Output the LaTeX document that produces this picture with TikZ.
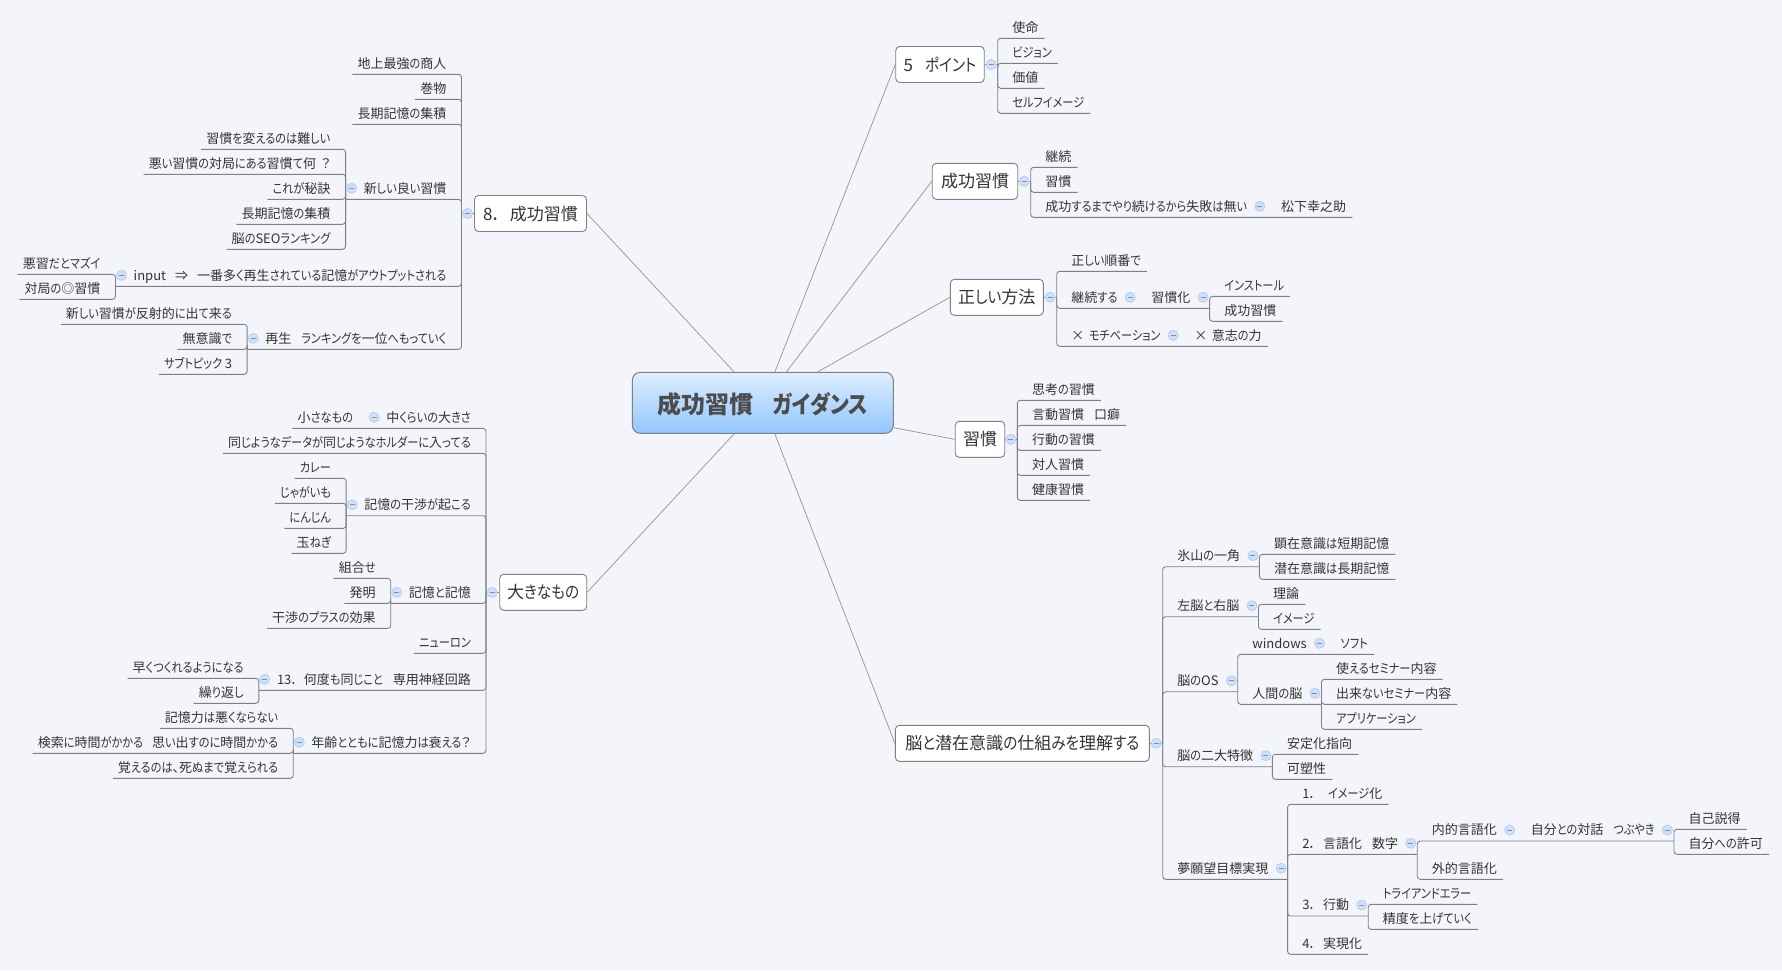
\documentclass[tikz,border=0pt]{standalone}
\usepackage{fontspec}
\setmainfont{Noto Sans CJK JP}[RawFeature={+palt}]
\newfontfamily\kanafont{Noto Sans CJK JP}[RawFeature={+palt},FakeStretch=0.86]
\XeTeXinterchartokenstate=1
\newXeTeXintercharclass\kanaclass
\count255="3041
\loop\XeTeXcharclass\count255=\kanaclass
\ifnum\count255<"30FF \advance\count255 by 1 \repeat
\XeTeXinterchartoks 0 \kanaclass={\kanafont}
\XeTeXinterchartoks 4095 \kanaclass={\kanafont}
\XeTeXinterchartoks \kanaclass 0={\rmfamily}
\XeTeXinterchartoks 4095 0={\rmfamily}
\definecolor{canvas}{HTML}{F3F5FB}
\definecolor{rim}{HTML}{808080}
\definecolor{inktext}{HTML}{333333}
\definecolor{foldfill}{HTML}{CFE0FA}
\definecolor{folddraw}{HTML}{B4CDF2}
\definecolor{centretop}{HTML}{DDEEFF}
\definecolor{centrebot}{HTML}{92C6FF}
\tikzset{
	link/.style={draw=rim!85, line width=0.7pt},
	branch/.style={draw=rim, line width=0.9pt, rounded corners=3pt},
	centre/.style={draw=rim, line width=1pt, rounded corners=8pt, top color=centretop, bottom color=centrebot, minimum width=261pt, minimum height=61pt, inner sep=0pt, text height=21pt, text depth=0pt, text=black!70, font=\fontsize{24}{28}\selectfont\bfseries},
	topic/.style={draw=rim, line width=0.9pt, fill=white, rounded corners=4pt, minimum height=36pt, inner sep=0pt, text height=13pt, text depth=0pt, text=inktext, font=\fontsize{17}{20}\selectfont},
	row/.style={inner sep=0pt, minimum height=22pt, text height=10pt, text depth=0pt, text=inktext, font=\fontsize{13}{15}\selectfont},
	lleaf/.style={row, anchor=south east, execute at begin node=\hspace{5pt}, execute at end node=\hspace{15pt}},
	lpar/.style={row, anchor=south east, execute at begin node=\hspace{18pt}, execute at end node=\hspace{15pt}},
	rleaf/.style={row, anchor=south west, execute at begin node=\hspace{14.5pt}, execute at end node=\hspace{6pt}},
	rpar/.style={row, anchor=south west, execute at begin node=\hspace{14.5pt}, execute at end node=\hspace{19pt}},
	fold/.style={circle, draw=folddraw, fill=foldfill, line width=0.8pt, minimum size=10pt, inner sep=0pt, path picture={\draw[folddraw!70!black, line width=0.7pt] ([xshift=-2.5pt]path picture bounding box.center) -- ([xshift=2.5pt]path picture bounding box.center);}},
}
\begin{document}
\begin{tikzpicture}[x=1pt, y=-1pt]
	\path[use as bounding box, fill=canvas] (0,0) rectangle (1782,970);

	\node[centre] (c)  at (762.8,402.8) {成功習慣\hspace{19pt}ガイダンス};
	\node[topic, minimum width=88.5pt]  (tp) at (940,64.5)   {5\hspace{12pt}ポイント};
	\node[topic, minimum width=85.5pt]  (ts) at (975,181.3)  {成功習慣};
	\node[topic, minimum width=93pt]    (tm) at (996.8,297.3){正しい方法};
	\node[topic, minimum width=49.5pt]  (th) at (980,439.3)  {習慣};
	\node[topic, minimum width=254pt]   (tn) at (1022.4,743.3){脳と潜在意識の仕組みを理解する};
	\node[topic, minimum width=112pt]   (tg) at (530.5,213.5){8．\hspace{9pt}成功習慣};
	\node[topic, minimum width=87pt]    (tb) at (543.2,592.3){大きなもの};

	\draw[link] (c) -- (tp.west);
	\draw[link] (c) -- (ts.west);
	\draw[link] (c) -- (tm.west);
	\draw[link] (c) -- (th.west);
	\draw[link] (c) -- (tn.west);
	\draw[link] (c) -- (tg.east);
	\draw[link] (c) -- (tb.east);

	\coordinate (sp) at (997.7,64.5);
	\node[rleaf] (p1) at (997.7,38.3) {使命};
	\node[rleaf] (p2) at (997.7,63.3) {ビジョン};
	\node[rleaf] (p3) at (997.7,88.3) {価値};
	\node[rleaf] (p4) at (997.7,113.3) {セルフイメージ};
	\draw[branch] (tp.east) -- (sp);
	\draw[branch] (sp) |- (p1.south east);
	\draw[branch] (sp) |- (p2.south east);
	\draw[branch] (sp) |- (p3.south east);
	\draw[branch] (sp) |- (p4.south east);

	\coordinate (ss) at (1030.7,181.3);
	\node[rleaf] (s1) at (1030.7,167.3) {継続};
	\node[rleaf] (s2) at (1030.7,192.3) {習慣};
	\node[rpar]  (s3) at (1030.7,217.3) {成功するまでやり続けるから失敗は無い};
	\node[rleaf] (s4) at (s3.south east) {松下幸之助};
	\draw[branch] (ts.east) -- (ss);
	\draw[branch] (ss) |- (s1.south east);
	\draw[branch] (ss) |- (s2.south east);
	\draw[branch] (ss) |- (s4.south east);

	\coordinate (sm) at (1056.7,297.3);
	\node[rleaf] (m1) at (1056.7,271.3) {正しい順番で};
	\node[rpar]  (m2) at (1056.7,308.3) {継続する};
	\node[rpar]  (m3) at (m2.south east) {習慣化};
	\node[rleaf] (m4) at (m3.south east |- 0,296.3) {インストール};
	\node[rleaf] (m5) at (m3.south east |- 0,321.3) {成功習慣};
	\node[rpar]  (m6) at (1056.7,346.3) {×\hspace{4.5pt}モチベーション};
	\node[rleaf] (m7) at (m6.south east) {×\hspace{4.5pt}意志の力};
	\draw[branch] (tm.east) -- (sm);
	\draw[branch] (sm) |- (m1.south east);
	\draw[branch] (sm) |- (m3.south east);
	\draw[branch] (sm) |- (m7.south east);
	\draw[branch] (m3.south east) |- (m4.south east);
	\draw[branch] (m3.south east) |- (m5.south east);

	\coordinate (sh) at (1017.3,439.3);
	\node[rleaf] (h1) at (1017.3,400.3) {思考の習慣};
	\node[rleaf] (h2) at (1017.3,425.3) {言動習慣\hspace{10pt}口癖};
	\node[rleaf] (h3) at (1017.3,450.3) {行動の習慣};
	\node[rleaf] (h4) at (1017.3,475.3) {対人習慣};
	\node[rleaf] (h5) at (1017.3,500.3) {健康習慣};
	\draw[branch] (th.east) -- (sh);
	\draw[branch] (sh) |- (h1.south east);
	\draw[branch] (sh) |- (h2.south east);
	\draw[branch] (sh) |- (h3.south east);
	\draw[branch] (sh) |- (h4.south east);
	\draw[branch] (sh) |- (h5.south east);

	\coordinate (sn) at (1162.7,743.3);
	\node[rpar]  (n1)  at (1162.7,566.7) {氷山の一角};
	\node[rleaf] (n11) at (n1.south east |- 0,554.3) {顕在意識は短期記憶};
	\node[rleaf] (n12) at (n1.south east |- 0,579.3) {潜在意識は長期記憶};
	\node[rpar]  (n2)  at (1162.7,616.7) {左脳と右脳};
	\node[rleaf] (n21) at (n2.south east |- 0,604.3) {理論};
	\node[rleaf] (n22) at (n2.south east |- 0,629.3) {イメージ};
	\node[rpar]  (n3)  at (1162.7,691.7) {脳のOS};
	\node[rpar]  (n31) at (n3.south east |- 0,654.3) {windows};
	\node[rleaf] (n32) at (n31.south east) {ソフト};
	\node[rpar]  (n33) at (n3.south east |- 0,704.3) {人間の脳};
	\node[rleaf] (n34) at (n33.south east |- 0,679.3) {使えるセミナー内容};
	\node[rleaf] (n35) at (n33.south east |- 0,704.3) {出来ないセミナー内容};
	\node[rleaf] (n36) at (n33.south east |- 0,729.3) {アプリケーション};
	\node[rpar]  (n4)  at (1162.7,766.7) {脳の二大特徴};
	\node[rleaf] (n41) at (n4.south east |- 0,754.3) {安定化指向};
	\node[rleaf] (n42) at (n4.south east |- 0,779.3) {可塑性};
	\node[rpar]  (n5)  at (1162.7,879.3) {夢願望目標実現};
	\node[rleaf] (n51) at (n5.south east |- 0,804.3) {1．\hspace{12pt}イメージ化};
	\node[rpar]  (n52) at (n5.south east |- 0,854.3) {2．\hspace{7pt}言語化\hspace{10pt}数字};
	\node[rpar]  (n53) at (n52.south east |- 0,841) {内的言語化};
	\node[rpar]  (n54) at (n53.south east) {自分との対話\hspace{10pt}つぶやき};
	\node[rleaf] (n55) at (n54.south east |- 0,829.3) {自己説得};
	\node[rleaf] (n56) at (n54.south east |- 0,854.3) {自分への許可};
	\node[rleaf] (n57) at (n52.south east |- 0,879.3) {外的言語化};
	\node[rpar]  (n58) at (n5.south east |- 0,916) {3．\hspace{7pt}行動};
	\node[rleaf] (n59) at (n58.south east |- 0,904.3) {トライアンドエラー};
	\node[rleaf] (n60) at (n58.south east |- 0,929.3) {精度を上げていく};
	\node[rleaf] (n61) at (n5.south east |- 0,954.3) {4．\hspace{7pt}実現化};
	\draw[branch] (tn.east) -- (sn);
	\draw[branch] (sn) |- (n1.south east);
	\draw[branch] (sn) |- (n2.south east);
	\draw[branch] (sn) |- (n3.south east);
	\draw[branch] (sn) |- (n4.south east);
	\draw[branch] (sn) |- (n5.south east);
	\draw[branch] (n1.south east) |- (n11.south east);
	\draw[branch] (n1.south east) |- (n12.south east);
	\draw[branch] (n2.south east) |- (n21.south east);
	\draw[branch] (n2.south east) |- (n22.south east);
	\draw[branch] (n3.south east) |- (n32.south east);
	\draw[branch] (n3.south east) |- (n33.south east);
	\draw[branch] (n33.south east) |- (n34.south east);
	\draw[branch] (n33.south east) |- (n35.south east);
	\draw[branch] (n33.south east) |- (n36.south east);
	\draw[branch] (n4.south east) |- (n41.south east);
	\draw[branch] (n4.south east) |- (n42.south east);
	\draw[branch] (n5.south east) |- (n51.south east);
	\draw[branch] (n5.south east) |- (n52.south east);
	\draw[branch] (n5.south east) |- (n58.south east);
	\draw[branch] (n5.south east) |- (n61.south east);
	\draw[branch] (n52.south east) |- (n54.south east);
	\draw[branch] (n52.south east) |- (n57.south east);
	\draw[branch] (n54.south east) |- (n55.south east);
	\draw[branch] (n54.south east) |- (n56.south east);
	\draw[branch] (n58.south east) |- (n59.south east);
	\draw[branch] (n58.south east) |- (n60.south east);

	\coordinate (sg) at (461.5,213.5);
	\node[lleaf] (g1)  at (461.5,74.3)  {地上最強の商人};
	\node[lleaf] (g2)  at (461.5,99.3)  {巻物};
	\node[lleaf] (g3)  at (461.5,124.3) {長期記憶の集積};
	\node[lpar]  (g4)  at (461.5,199.3) {新しい良い習慣};
	\node[lleaf] (g41) at (g4.south west |- 0,149.3) {習慣を変えるのは難しい};
	\node[lleaf] (g42) at (g4.south west |- 0,174.3) {悪い習慣の対局にある習慣て何\hspace{5pt}？};
	\node[lleaf] (g43) at (g4.south west |- 0,199.3) {これが秘訣};
	\node[lleaf] (g44) at (g4.south west |- 0,224.3) {長期記憶の集積};
	\node[lleaf] (g45) at (g4.south west |- 0,249.3) {脳のSEOランキング};
	\node[lpar]  (g5)  at (461.5,286.3) {input\hspace{9pt}⇒\hspace{9pt}一番多く再生されている記憶がアウトプットされる};
	\node[lleaf] (g51) at (g5.south west |- 0,274.3) {悪習だとマズイ};
	\node[lleaf] (g52) at (g5.south west |- 0,299.3) {対局の◎習慣};
	\node[lpar]  (g6)  at (461.5,349.3) {再生\hspace{10pt}ランキングを一位へもっていく};
	\node[lleaf] (g61) at (g6.south west |- 0,324.3) {新しい習慣が反射的に出て来る};
	\node[lleaf] (g62) at (g6.south west |- 0,349.3) {無意識で};
	\node[lleaf] (g63) at (g6.south west |- 0,374.3) {サブトピック 3};
	\draw[branch] (tg.west) -- (sg);
	\draw[branch] (sg) |- (g1.south west);
	\draw[branch] (sg) |- (g2.south west);
	\draw[branch] (sg) |- (g3.south west);
	\draw[branch] (sg) |- (g4.south west);
	\draw[branch] (sg) |- (g5.south west);
	\draw[branch] (sg) |- (g6.south west);
	\draw[branch] (g4.south west) |- (g41.south west);
	\draw[branch] (g4.south west) |- (g42.south west);
	\draw[branch] (g4.south west) |- (g43.south west);
	\draw[branch] (g4.south west) |- (g44.south west);
	\draw[branch] (g4.south west) |- (g45.south west);
	\draw[branch] (g5.south west) |- (g51.south west);
	\draw[branch] (g5.south west) |- (g52.south west);
	\draw[branch] (g6.south west) |- (g61.south west);
	\draw[branch] (g6.south west) |- (g62.south west);
	\draw[branch] (g6.south west) |- (g63.south west);

	\coordinate (sb) at (486,592.3);
	\node[lpar]  (b1)  at (486,428.3) {中くらいの大きさ};
	\node[lleaf] (b11) at (b1.south west) {小さなもの};
	\node[lleaf] (b2)  at (486,453.3) {同じようなデータが同じようなホルダーに入ってる};
	\node[lpar]  (b3)  at (486,515.7) {記憶の干渉が起こる};
	\node[lleaf] (b31) at (b3.south west |- 0,478.3) {カレー};
	\node[lleaf] (b32) at (b3.south west |- 0,503.3) {じゃがいも};
	\node[lleaf] (b33) at (b3.south west |- 0,528.3) {にんじん};
	\node[lleaf] (b34) at (b3.south west |- 0,553.3) {玉ねぎ};
	\node[lpar]  (b4)  at (486,603.3) {記憶と記憶};
	\node[lleaf] (b41) at (b4.south west |- 0,578.3) {組合せ};
	\node[lleaf] (b42) at (b4.south west |- 0,603.3) {発明};
	\node[lleaf] (b43) at (b4.south west |- 0,628.3) {干渉のプラスの効果};
	\node[lleaf] (b5)  at (486,653.3) {ニューロン};
	\node[lpar]  (b6)  at (486,690.3) {13．\hspace{6pt}何度も同じこと\hspace{10pt}専用神経回路};
	\node[lleaf] (b61) at (b6.south west |- 0,678.3) {早くつくれるようになる};
	\node[lleaf] (b62) at (b6.south west |- 0,703.3) {繰り返し};
	\node[lpar]  (b7)  at (486,753.3) {年齢とともに記憶力は衰える？};
	\node[lleaf] (b71) at (b7.south west |- 0,728.3) {記憶力は悪くならない};
	\node[lleaf] (b72) at (b7.south west |- 0,753.3) {検索に時間がかかる\hspace{9pt}思い出すのに時間かかる};
	\node[lleaf] (b73) at (b7.south west |- 0,778.3) {覚えるのは、死ぬまで覚えられる};
	\draw[branch] (tb.west) -- (sb);
	\draw[branch] (sb) |- (b11.south west);
	\draw[branch] (sb) |- (b2.south west);
	\draw[branch] (sb) |- (b3.south west);
	\draw[branch] (sb) |- (b4.south west);
	\draw[branch] (sb) |- (b5.south west);
	\draw[branch] (sb) |- (b6.south west);
	\draw[branch] (sb) |- (b7.south west);
	\draw[branch] (b3.south west) |- (b31.south west);
	\draw[branch] (b3.south west) |- (b32.south west);
	\draw[branch] (b3.south west) |- (b33.south west);
	\draw[branch] (b3.south west) |- (b34.south west);
	\draw[branch] (b4.south west) |- (b41.south west);
	\draw[branch] (b4.south west) |- (b42.south west);
	\draw[branch] (b4.south west) |- (b43.south west);
	\draw[branch] (b6.south west) |- (b61.south west);
	\draw[branch] (b6.south west) |- (b62.south west);
	\draw[branch] (b7.south west) |- (b71.south west);
	\draw[branch] (b7.south west) |- (b72.south west);
	\draw[branch] (b7.south west) |- (b73.south west);

	\node[fold] (fp)  at ([xshift=-6.5pt]sp) {};
	\node[fold] (fs)  at ([xshift=-6.5pt]ss) {};
	\node[fold] (fm)  at ([xshift=-6.5pt]sm) {};
	\node[fold] (fh)  at ([xshift=-6.5pt]sh) {};
	\node[fold] (fn)  at ([xshift=-6.5pt]sn) {};
	\node[fold] (fg)  at ([xshift=6pt]sg) {};
	\node[fold] (fb)  at ([xshift=6pt]sb) {};
	\node[fold] (fs3) at ([xshift=-6.5pt,yshift=11pt]s3.south east) {};
	\node[fold] (fm2) at ([xshift=-6.5pt,yshift=11pt]m2.south east) {};
	\node[fold] (fm3) at ([xshift=-6.5pt,yshift=11pt]m3.south east) {};
	\node[fold] (fm6) at ([xshift=-6.5pt,yshift=11pt]m6.south east) {};
	\node[fold] (fn1) at ([xshift=-6.5pt,yshift=11pt]n1.south east) {};
	\node[fold] (fn2) at ([xshift=-6.5pt,yshift=11pt]n2.south east) {};
	\node[fold] (fn3) at ([xshift=-6.5pt,yshift=11pt]n3.south east) {};
	\node[fold] (fn4) at ([xshift=-6.5pt,yshift=11pt]n31.south east) {};
	\node[fold] (fn5) at ([xshift=-6.5pt,yshift=11pt]n33.south east) {};
	\node[fold] (fn6) at ([xshift=-6.5pt,yshift=11pt]n4.south east) {};
	\node[fold] (fn7) at ([xshift=-6.5pt,yshift=11pt]n5.south east) {};
	\node[fold] (fn8) at ([xshift=-6.5pt,yshift=11pt]n52.south east) {};
	\node[fold] (fn9) at ([xshift=-6.5pt,yshift=11pt]n53.south east) {};
	\node[fold] (fna) at ([xshift=-6.5pt,yshift=11pt]n54.south east) {};
	\node[fold] (fnb) at ([xshift=-6.5pt,yshift=11pt]n58.south east) {};
	\node[fold] (fg4) at ([xshift=6pt,yshift=11pt]g4.south west) {};
	\node[fold] (fg5) at ([xshift=6pt,yshift=11pt]g5.south west) {};
	\node[fold] (fg6) at ([xshift=6pt,yshift=11pt]g6.south west) {};
	\node[fold] (fb1) at ([xshift=6pt,yshift=11pt]b1.south west) {};
	\node[fold] (fb3) at ([xshift=6pt,yshift=11pt]b3.south west) {};
	\node[fold] (fb4) at ([xshift=6pt,yshift=11pt]b4.south west) {};
	\node[fold] (fb6) at ([xshift=6pt,yshift=11pt]b6.south west) {};
	\node[fold] (fb7) at ([xshift=6pt,yshift=11pt]b7.south west) {};
\end{tikzpicture}
\end{document}
